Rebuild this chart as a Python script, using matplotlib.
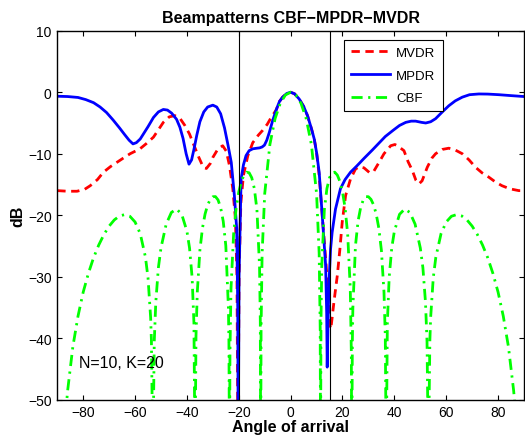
import numpy as np
import matplotlib
matplotlib.use("Agg")
import matplotlib.pyplot as plt

plt.rcParams.update({
    "font.family": ["Liberation Sans", "DejaVu Sans"],
    "font.size": 10,
    "axes.linewidth": 1.0,
})

# ---- data (angle in deg, level in dB) ----
cbf_angle = [
    -90, -88, -87, -86, -84, -82, -80, -78, -76, -74, -72, -70, -68, -66, -64, -62, -60,
    -58, -56, -55, -54, -53.7, -53.13, -52.6, -52, -51, -50, -48, -46, -44, -42, -40,
    -39, -38, -37.3, -36.87, -36.5, -36, -35, -34, -33, -32, -31, -30, -29, -28, -27,
    -26, -25, -24, -23.8, -23.58, -23.4, -23, -22, -21, -20, -19, -18, -17, -16, -15,
    -14, -13, -12, -11.7, -11.54, -11.4, -11, -10, -8, -6, -4, -2, 0,
    2, 4, 6, 8, 10, 11, 11.4, 11.54, 11.7, 12, 13, 14, 15, 16, 17, 18, 19, 20, 21, 22,
    23, 23.4, 23.58, 23.8, 24, 25, 26, 27, 28, 29, 30, 31, 32, 33, 34, 35, 36, 36.5,
    36.87, 37.3, 38, 39, 40, 42, 44, 46, 48, 50, 51, 52, 52.6, 53.13, 53.7, 54, 55, 56,
    58, 60, 62, 64, 66, 68, 70, 72, 74, 76, 78, 80, 82, 84, 86, 87, 88, 90,
]
cbf_db = [
    -60, -60.4, -53.3, -48.5, -41.4, -36.4, -32.5, -29.45, -26.9, -24.84, -23.13, -21.77,
    -20.76, -20.12, -19.9, -20.17, -21.1,
    -23.0, -26.8, -30.2, -36.6, -40.3, -60, -40.6, -34.1, -28.5, -25.3, -21.45, -19.55,
    -18.99, -19.85, -22.6,
    -25.3, -30.1, -37.5, -60, -39.6, -32.5, -25.7, -22.08, -19.8, -18.32, -17.43, -16.99,
    -16.97, -17.51, -18.75,
    -20.97, -24.96, -35.05, -40.7, -60, -42.2, -31.9, -23.1, -18.8, -16.2, -14.5, -13.47,
    -13.0, -13.1, -13.9,
    -15.65, -19.1, -28.3, -37.2, -60, -38.4, -26.2, -16.5, -8.48, -4.29, -1.80, -0.44, 0,
    -0.44, -1.80, -4.29, -8.48, -16.5, -26.2, -38.4, -60, -37.2, -28.3, -19.1, -15.65,
    -13.9, -13.1, -13.0, -13.47, -14.5, -16.2, -18.8, -23.1,
    -31.9, -42.2, -60, -40.7, -35.05, -24.96, -20.97, -18.75, -17.51, -16.97, -16.99,
    -17.43, -18.32, -19.8, -22.08, -25.7, -32.5, -39.6,
    -60, -37.5, -30.1, -25.3, -22.6, -19.85, -18.99, -19.55, -21.45, -25.3, -28.5, -34.1,
    -40.6, -60, -40.3, -36.6, -30.2, -26.8,
    -23.0, -21.1, -20.17, -19.9, -20.12, -20.76, -21.77, -23.13, -24.84, -26.9, -29.45,
    -32.5, -36.4, -41.4, -48.5, -53.3, -60.4, -60,
]

mpdr_angle = [
    -90, -86, -82, -79, -76, -73.5, -71, -68.5, -66, -64, -62.3, -60.8, -59.5, -58,
    -56.5, -55, -52.9, -51, -49.1, -47.5, -45.9, -44, -42.7, -41.5, -40.3, -39.2, -38.2,
    -37.3, -36.2, -35, -33.5, -32, -30, -28.5, -27, -25.5, -24.2, -22.9, -21.7, -20.8,
    -20.4, -20.2, -19.9, -19.1, -18.2, -17.2, -16, -14.6, -13, -12, -11, -10.1, -9.2,
    -8.2, -7, -5.6, -4.3, -3.1, -1.5, 0, 1.5, 3.3, 5, 6.5, 8, 9.1, 10, 11, 12.2, 13.5,
    13.9, 14.1, 14.4, 14.8, 15.4, 16.0, 17.3, 19.2, 21, 23.1, 25.5, 28.2, 31.5, 34,
    36.5, 39.5, 42, 44.4, 46.5, 48.2, 50.5, 52.1, 54, 55.9, 58.5, 61, 63.5, 66.2, 69,
    72.6, 76, 80.3, 85, 90,
]
mpdr_db = [
    -0.65, -0.7, -0.85, -1.2, -1.7, -2.4, -3.3, -4.5, -5.8, -6.9, -7.8, -8.4, -8.2,
    -7.6, -6.6, -5.6, -4.1, -3.2, -2.8, -2.9, -3.4, -4.4, -5.7, -7.5, -10.0, -11.7,
    -11.0, -9.3, -7.0, -4.8, -3.2, -2.4, -2.1, -2.4, -3.5, -5.8, -8.5, -11.4, -16.8,
    -22.2, -35, -60, -30, -14.1, -11.8, -10.3, -9.5, -9.2, -9.1, -9.05, -8.9, -8.6,
    -7.8, -6.5, -4.7, -2.9, -1.5, -0.8, -0.2, 0, -0.25, -1.1, -2.3, -3.8, -5.9, -7.6,
    -9.8, -13.0, -20.1, -28.2, -36, -44.7,
    -38, -30.9, -25.5, -22.8, -19.0, -15.7, -14.2, -13.0, -12.0, -10.8, -9.4, -8.3,
    -7.2, -6.2, -5.4,
    -4.9, -4.7, -4.7, -4.9, -5.0, -4.8, -4.3, -3.2, -2.2, -1.4, -0.8, -0.4, -0.28, -0.3,
    -0.4, -0.55, -0.7,
]

mvdr_angle = [
    -90, -86, -82.4, -79.5, -77.3, -74.5, -72.2, -69.5, -67, -64.5, -61.9, -58.1, -55.5,
    -52.9, -51, -49.1, -46.8, -44.6, -42.6, -40.8, -39, -37.5, -35.5, -33.7, -32.5, -31,
    -30, -28, -26.2, -24.8, -23.6, -22.3, -21.3, -20.7, -20.3, -19.9, -19.2, -18.2,
    -16.5, -14.6, -12.5, -10.8, -9, -7.5, -5.6, -4.3, -3.1, -1.5, 0, 1.5, 3.3, 5, 6.5, 8,
    9.1, 10, 11, 12.3, 13.5, 14.5, 15.2, 15.5, 16.7, 18.0, 19.0, 19.9, 21.2, 23.1, 25,
    26.5, 28.3, 30.5, 32, 34.1, 36, 38.6, 40.2, 41.2, 43.7, 45.3, 46.9, 48.3, 49.5, 50.7,
    52.7, 54.5, 55.9, 58.5, 61, 63.5, 66.2, 68.8, 71.3, 73.8, 76.4, 79, 81.5, 84.5, 88,
    90,
]
mvdr_db = [
    -16.0, -16.1, -16.1, -15.8, -15.2, -14.2, -13.0, -12.1, -11.4, -10.7, -10.0, -9.2,
    -8.3, -7.3, -6.1, -4.9, -4.0, -3.8, -4.3, -5.4, -6.8, -8.4, -10.5, -12.2, -12.4,
    -11.6, -10.6, -9.2, -8.7, -9.6, -11.9, -15.7, -20.6, -30, -60, -30, -18, -13.5,
    -10.3, -8.2, -7.0, -6.2, -5.2, -4.1, -2.9, -1.5, -0.8, -0.2, 0, -0.25, -1.1, -2.3,
    -3.8, -5.9,
    -7.6, -9.8, -13.5, -20.6, -27, -33, -38, -38.5, -34.1, -29.8, -25.5, -21.1, -16.8,
    -14.1, -12.5,
    -12.1, -12.3, -13.1, -12.9, -11.4, -10.0, -8.7, -8.5, -8.7, -9.5, -11.3, -12.7,
    -14.3, -14.9, -14.4,
    -12.2, -10.7, -10.0, -9.3, -9.1, -9.4, -10.0, -11.0, -12.2, -13.1, -13.8, -14.6,
    -15.2, -15.7, -16.0,
    -16.0,
]

interferers = [-20, 15]
x_ticks = [-80, -60, -40, -20, 0, 20, 40, 60, 80]
y_ticks = [-50, -40, -30, -20, -10, 0, 10]

fig = plt.figure(figsize=(5.25, 4.39), dpi=100)
ax = fig.add_axes([0.1091, 0.0872, 0.889, 0.8405])

ax.plot(mvdr_angle, mvdr_db, color='#ff0000', linewidth=2, dashes=(3, 2), label='MVDR')
ax.plot(mpdr_angle, mpdr_db, color='#0000ff', linewidth=2, label='MPDR')
ax.plot(cbf_angle, cbf_db, color='#00ff00', linewidth=2, dashes=(4, 2, 0.8, 2), label='CBF')

for a in interferers:
    ax.axvline(a, color='black', linewidth=0.8)

ax.text(-81.5, -44, 'N=10, K=20', fontsize=11.5, va='center')

ax.set_xlim(-90, 90)
ax.set_ylim(-50, 10)
ax.set_xticks(x_ticks)
ax.set_yticks(y_ticks)
ax.tick_params(direction='in', top=True, right=True, length=3.5, width=0.8, pad=4,
               labelsize=10)

ax.set_title('Beampatterns CBF\u2212MPDR\u2212MVDR', fontsize=11.5, fontweight='bold', pad=6)
ax.set_xlabel('Angle of arrival', fontsize=11.5, fontweight='bold', labelpad=0)
ax.set_ylabel('dB', fontsize=11.5, fontweight='bold', labelpad=2)

leg = ax.legend(loc='upper right', bbox_to_anchor=(0.826, 0.976), borderaxespad=0,
                fancybox=False, framealpha=1, edgecolor='black', fontsize=9.5,
                handlelength=2.9, handletextpad=0.5, labelspacing=0.78, borderpad=0.55)
leg.get_frame().set_linewidth(0.8)

fig.savefig('out.png', dpi=100)
